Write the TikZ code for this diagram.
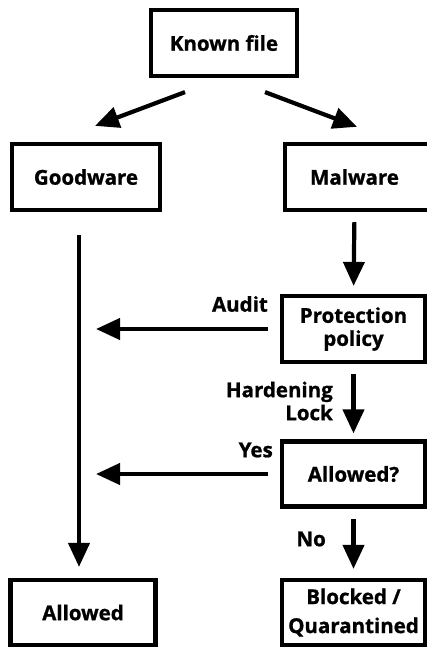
\documentclass[tikz,border=0pt]{standalone}
\usepackage{fontspec}
\setmainfont{Open Sans}[BoldFeatures={FakeBold=1}]
\usetikzlibrary{arrows.meta}
\begin{document}
\begin{tikzpicture}[x=1pt,y=-1pt,
  every node/.style={font=\bfseries\fontsize{20.5}{22}\selectfont, inner sep=0pt},
  flowbox/.style={draw, line width=4.2pt, align=center},
  arr/.style={line width=4.2pt, -{Triangle[length=24pt,width=21pt]}},
  lbl/.style={align=right}
]
\useasboundingbox (0,0) rectangle (427,647);

% boxes
\node[flowbox, minimum width=146, minimum height=66] (known) at (224,43) {Known file};
\node[flowbox, minimum width=148, minimum height=66] (goodware) at (86,177) {Goodware};
\draw[line width=4.2pt] (285,144) rectangle (445,210);
\node[minimum width=140, minimum height=66] (malware) at (354.5,177) {Malware};
\node[flowbox, minimum width=143, minimum height=66, font=\bfseries\fontsize{20.5}{23}\selectfont] (protect) at (353.5,329) {Protection\\policy};
\node[flowbox, minimum width=143, minimum height=65] (decide) at (353.5,474) {Allowed?};
\node[flowbox, minimum width=145, minimum height=65] (allowed) at (83,612.5) {Allowed};
\node[flowbox, minimum width=143, minimum height=65, font=\bfseries\fontsize{20.5}{29}\selectfont] (blocked) at (353.5,612.5) {Blocked /\\Quarantined};

% free ends of the two side arrows
\coordinate (auditend) at (96,329);
\coordinate (yesend) at (96,474);

% connectors
\draw[arr] ([xshift=-39pt,yshift=-14pt]known.south) -- ([xshift=9pt,yshift=16pt]goodware.north);
\draw[arr] ([xshift=41pt,yshift=-14pt]known.south) -- ([xshift=2.5pt,yshift=17pt]malware.north);
\draw[arr, shorten <=12pt, shorten >=8pt] (malware.south) -- (protect.north);
\draw[arr, shorten <=10pt, shorten >=6pt] (protect.south) -- (decide.north);
\draw[arr, shorten <=10pt, shorten >=9pt] (decide.south) -- (blocked.north);
\draw[arr, shorten <=12pt] (protect.west) -- (auditend);
\draw[arr, shorten <=12pt] (decide.west) -- (yesend);
\draw[arr, shorten <=23pt, shorten >=11pt] ([xshift=-7pt]goodware.south) -- ([xshift=-4pt]allowed.north);

% labels
\node[anchor=east] (audit) at (268,304) {Audit};
\node[anchor=east, lbl, font=\bfseries\fontsize{20.5}{23}\selectfont] (harden) at (333,401) {Hardening\\Lock};
\node[anchor=east] (yes) at (273,450) {Yes};
\node[anchor=east] (no) at (326,539) {No};
\end{tikzpicture}
\end{document}
